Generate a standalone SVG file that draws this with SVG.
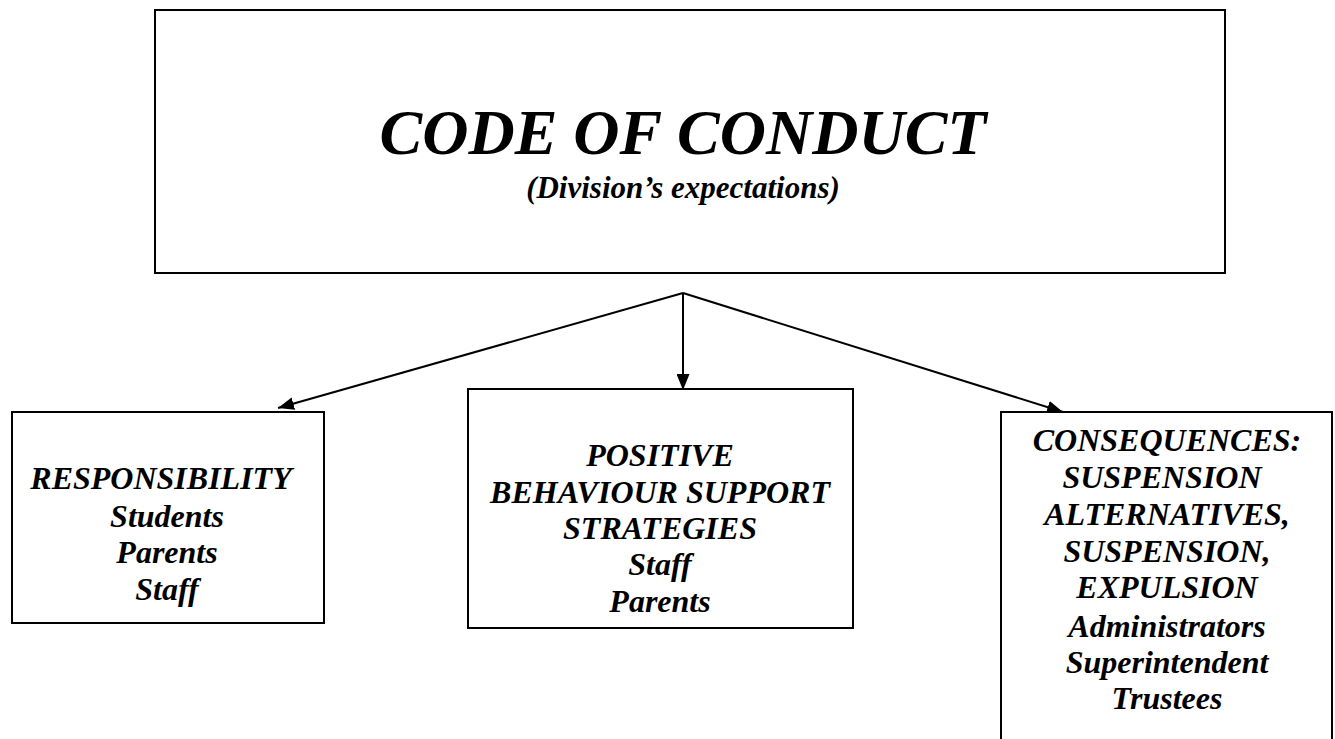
<svg xmlns="http://www.w3.org/2000/svg" width="1335" height="739" viewBox="0 0 1335 739">
  <style>
    .box { fill: #ffffff; stroke: #000000; stroke-width: 2; }
    .edge { fill: none; stroke: #000000; stroke-width: 2; }
    text { font-family: "Liberation Serif", "Times New Roman", serif; font-weight: bold; font-style: italic; fill: #000000; text-anchor: middle; }
    .title { font-size: 64px; }
    .sub { font-size: 31px; }
    .body { font-size: 32px; }
  </style>
  <defs>
    <marker id="arrow" markerWidth="16" markerHeight="13" refX="16" refY="6.5" orient="auto" markerUnits="userSpaceOnUse">
      <path d="M0,0 L16,6.5 L0,13 Z" fill="#000000"/>
    </marker>
  </defs>
  <rect width="1335" height="739" fill="#ffffff"/>

  <!-- top node -->
  <g id="code-of-conduct">
    <rect class="box" x="155" y="10" width="1070" height="263"/>
    <text class="title" x="683" y="154">CODE OF CONDUCT</text>
    <text class="sub" x="683" y="198">(Division’s expectations)</text>
  </g>

  <!-- connectors -->
  <g id="connectors">
    <line class="edge" x1="683" y1="293" x2="278" y2="408" marker-end="url(#arrow)"/>
    <line class="edge" x1="683" y1="293" x2="683" y2="390" marker-end="url(#arrow)"/>
    <line class="edge" x1="683" y1="293" x2="1063" y2="412" marker-end="url(#arrow)"/>
  </g>

  <!-- left node -->
  <g id="responsibility">
    <rect class="box" x="12" y="412" width="312" height="211"/>
    <text class="body" x="161" y="489">RESPONSIBILITY</text>
    <text class="body" x="167" y="527">Students</text>
    <text class="body" x="167" y="563">Parents</text>
    <text class="body" x="167" y="600">Staff</text>
  </g>

  <!-- middle node -->
  <g id="positive-behaviour">
    <rect class="box" x="468" y="389" width="385" height="239"/>
    <text class="body" x="660" y="466">POSITIVE</text>
    <text class="body" x="660" y="503">BEHAVIOUR SUPPORT</text>
    <text class="body" x="660" y="539">STRATEGIES</text>
    <text class="body" x="660" y="575">Staff</text>
    <text class="body" x="660" y="612">Parents</text>
  </g>

  <!-- right node -->
  <g id="consequences">
    <rect class="box" x="1001" y="412" width="331" height="360"/>
    <text class="body" x="1167" y="451">CONSEQUENCES:</text>
    <text class="body" x="1162" y="488">SUSPENSION</text>
    <text class="body" x="1167" y="525">ALTERNATIVES,</text>
    <text class="body" x="1167" y="562">SUSPENSION,</text>
    <text class="body" x="1167" y="598">EXPULSION</text>
    <text class="body" x="1167" y="637">Administrators</text>
    <text class="body" x="1167" y="673">Superintendent</text>
    <text class="body" x="1167" y="709">Trustees</text>
  </g>
</svg>
